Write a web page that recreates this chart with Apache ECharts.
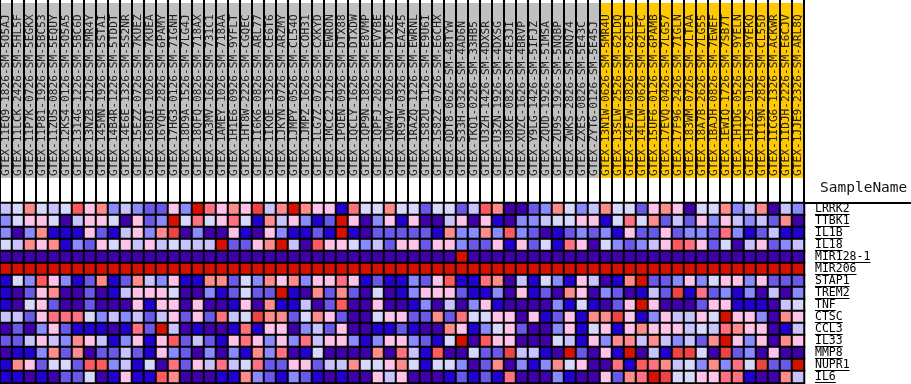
<!DOCTYPE html>
<html><head><meta charset="utf-8">
<script src="https://cdn.jsdelivr.net/npm/echarts@6/dist/echarts.min.js"></script>
<style>html,body{margin:0;padding:0;background:#fff}#c{width:911px;height:384px}</style>
</head><body><div id="c"></div>
<script>
// Sample names (columns)
const sampleNames = [
"GTEX-11EQ9-1826-SM-5O5AJ","GTEX-11LCK-2426-SM-5HL5F","GTEX-11P7K-0726-SM-5EGKX","GTEX-11P81-1926-SM-5BC53",
"GTEX-11ZUS-0826-SM-5EQUY","GTEX-12KS4-0126-SM-5O5A5","GTEX-1314G-1226-SM-5BC6D","GTEX-13NZB-2126-SM-5MR4Y",
"GTEX-145MN-1926-SM-5STAI","GTEX-14B4R-1226-SM-5TDDT","GTEX-14E6E-1326-SM-5S2NR","GTEX-15EZZ-0726-SM-7KUEZ",
"GTEX-16BQI-1026-SM-7KUEA","GTEX-16YQH-2826-SM-6PAMY","GTEX-17HG3-0126-SM-7IGNH","GTEX-18D9A-1526-SM-7LG4J",
"GTEX-18QFQ-0826-SM-718AX","GTEX-1A3MV-1626-SM-731C1","GTEX-1AMEY-1026-SM-718AA","GTEX-1H1E6-0926-SM-9YFLT",
"GTEX-1HT8W-2226-SM-CGQEC","GTEX-1I6K6-0826-SM-ARL77","GTEX-1IKOE-1326-SM-CE6T6","GTEX-1JKYN-0726-SM-ARZMY",
"GTEX-1JMPY-0526-SM-CL54O","GTEX-1JMPZ-1626-SM-COH31","GTEX-1LG7Z-0726-SM-CXKYD","GTEX-1MCC2-2126-SM-EWRON",
"GTEX-1POEN-0926-SM-DTX88","GTEX-1QCLY-1626-SM-DTXDW","GTEX-1QP9N-1826-SM-E8VMP","GTEX-1QPFJ-2026-SM-EVYBE",
"GTEX-1QW4Y-1026-SM-DTXE2","GTEX-1R9JW-0326-SM-EAZ45","GTEX-1RAZQ-1226-SM-EWRNL","GTEX-1S82U-1126-SM-E9U6I",
"GTEX-1S82Z-0726-SM-E6CHX","GTEX-QDT8-0626-SM-48TYW","GTEX-S33H-0326-SM-4AD6N","GTEX-TKQ1-0226-SM-33HB5",
"GTEX-U3ZH-1426-SM-4DXSR","GTEX-U3ZN-1926-SM-4DXSG","GTEX-U8XE-0826-SM-4E3JI","GTEX-XUZC-1626-SM-4BRVP",
"GTEX-Y9LG-1426-SM-5IFJZ","GTEX-ZQUD-1926-SM-51MSA","GTEX-ZU9S-1926-SM-5NQBP","GTEX-ZWKS-2826-SM-5NQ74",
"GTEX-ZXES-0826-SM-5E43C","GTEX-ZYT6-0126-SM-5E45J",
"GTEX-13N1W-0626-SM-5MR4U","GTEX-13SLW-2526-SM-62LDQ","GTEX-14E7W-0826-SM-62LEJ","GTEX-14LLW-0626-SM-62LFC",
"GTEX-15UF6-0126-SM-6PAMB","GTEX-17EVQ-0426-SM-7LG57","GTEX-17F96-2426-SM-7IGLN","GTEX-183WM-0726-SM-7LTAA",
"GTEX-18A7B-2626-SM-7LG55","GTEX-1BAJH-0826-SM-7EWEF","GTEX-1EWIQ-1726-SM-7SB7T","GTEX-1H1DG-0526-SM-9YELN",
"GTEX-1H1ZS-0126-SM-9YEKQ","GTEX-1I19N-2826-SM-CL55D","GTEX-1ICG6-1326-SM-ACKWR","GTEX-1IDJH-2226-SM-E6CJV",
"GTEX-1JJE9-2326-SM-ARL8Q"
];
// sample group: 0 = grey group, 1 = highlighted (yellow) group
const sampleGroup = [
0,0,0,0,0,0,0,0,0,0,0,0,0,0,0,0,0,0,0,0,0,0,0,0,0,0,0,0,0,0,0,0,0,0,0,0,0,0,0,0,0,0,0,0,0,0,0,0,0,0,
1,1,1,1,1,1,1,1,1,1,1,1,1,1,1,1,1
];
const genes = ["LRRK2","TTBK1","IL1B","IL18","MIR128-1","MIR206","STAP1","TREM2","TNF","CTSC","CCL3","IL33","MMP8","NUPR1","IL6"];

// Expression level bins (0 = lowest ... 11 = highest), one array per gene
const LRRK2 = [4,5,7,5,4,5,9,6,7,3,4,3,2,2,6,3,11, 8,6,7,6,10,4,7,11,7,6,6,1,8,5,5,7,5, 5,2,5,5,2,4,9,7,0,0,2,3,7,5,3,4,7, 5,5,2,6,7,6,0,5,5,7,3,4,7,0,4,3];
const TTBK1 = [3,5,6,6,5,0,4,6,6,5,0,6,2,3,11,5,8, 5,6,8,5,1,7,4,6,3,1,2,11,6,0,3,6,1, 6,0,0,4,6,0,6,1,0,3,3,4,5,5,6,6,1, 5,8,5,7,2,4,2,6,3,6,4,3,4,2,7,0];
const IL1B  = [3,0,3,7,1,1,1,6,2,1,4,6,3,7,10,0,3, 0,0,6,1,0,6,3,1,1,2,1,11,1,0,2,2,2, 2,2,1,7,3,3,7,3,9,3,2,0,1,2,3,2,3, 1,6,2,2,6,2,3,3,2,8,3,1,2,4,1,1];
const IL18  = [5,4,7,6,7,1,3,2,6,5,6,4,6,4,5,4,4, 4,11,2,2,6,7,11,4,0,9,6,6,5,3,4,2,6, 6,2,6,6,3,2,2,6,1,6,2,5,1,8,6,0,5, 3,2,3,4,6,9,8,6,2,5,0,4,6,2,3,4];
const MIR128_1 = [0,0,0,0,0,0,0,0,0,0,0,0,0,0,0,0,0, 0,0,0,0,0,0,0,0,0,0,0,0,0,0,0,0,0, 0,0,0,0,11,0,0,0,0,0,0,0,0,0,0,0,0, 0,0,0,0,0,0,0,0,0,0,0,0,0,0,0,0];
const MIR206 = [11,11,11,11,11,11,11,11,11,11,11,11,11,11,11,11,11, 11,11,11,11,11,11,11,11,11,11,11,11,11,11,11,11,11, 11,11,11,11,11,11,11,11,11,11,11,11,11,11,11,11,11, 11,11,11,11,11,11,11,11,11,11,11,11,11,11,11,11];
const STAP1 = [1,5,3,9,6,3,1,2,7,1,2,7,4,3,6,1,1, 7,7,2,5,3,7,6,7,3,6,6,8,6,1,2,1,1, 3,2,6,9,1,1,8,7,0,4,1,5,3,1,6,4,0, 1,7,11,2,2,3,6,3,5,6,6,3,6,2,2,2];
const TREM2 = [1,0,2,6,7,0,0,2,0,1,4,6,6,6,5,0,0, 3,1,2,5,2,2,11,1,0,7,2,7,2,0,5,0,1, 3,6,6,6,2,1,1,3,0,6,1,2,0,7,6,0,3, 2,0,1,4,2,10,1,8,2,3,1,3,0,4,0,3];
const TNF   = [1,0,5,6,2,0,0,2,0,0,0,6,1,6,6,0,6, 0,0,1,6,0,7,1,1,4,0,2,9,0,0,6,0,0, 1,3,0,4,0,3,6,1,0,0,0,0,3,1,5,1,0, 2,6,11,6,0,0,0,2,6,6,1,1,1,0,4,5];
const CTSC  = [4,4,2,6,8,8,8,5,3,4,3,4,2,4,6,2,6, 2,8,4,5,10,7,7,2,5,7,6,2,0,0,5,6,6, 2,2,7,2,8,5,5,6,6,0,6,1,2,6,1,7,7, 10,6,1,3,6,4,4,6,5,11,6,6,3,0,7,6];
const CCL3  = [0,2,0,3,6,2,1,1,1,0,1,8,2,11,4,0,1, 0,0,1,8,1,6,6,0,3,4,2,6,0,0,1,1,2, 1,0,0,7,6,1,3,5,6,2,0,0,3,6,1,5,6, 1,6,7,6,6,6,4,5,4,8,7,6,6,0,1,4];
const IL33  = [2,2,4,6,4,3,7,6,4,1,3,6,1,6,9,2,4, 2,1,6,8,6,3,6,3,8,4,6,6,3,1,3,6,6, 3,2,1,5,11,0,9,6,6,0,0,0,5,4,1,6,3, 7,7,4,7,4,3,4,2,7,11,6,3,6,0,7,6];
const MMP8  = [0,1,1,3,7,2,7,0,2,2,4,2,1,6,3,2,0, 3,0,3,1,7,3,8,0,1,5,0,0,0,0,7,0,8, 4,1,9,0,0,5,2,2,10,4,4,1,0,11,2,0,6, 1,11,0,4,1,10,10,5,0,10,2,3,0,6,0,0];
const NUPR1 = [1,7,6,2,5,5,2,9,9,3,4,1,5,0,8,2,6, 4,8,4,5,8,2,2,6,6,2,4,4,7,5,5,6,7, 5,1,5,5,3,0,2,7,0,3,1,3,7,5,6,0,0, 8,1,9,8,7,4,5,3,7,3,8,5,10,2,2,11];
const IL6   = [1,1,0,1,0,2,2,5,0,1,6,1,1,9,7,0,0, 0,1,1,7,3,2,1,3,2,1,0,1,0,0,6,4,6, 0,0,0,1,2,1,2,1,8,0,0,0,3,1,0,0,6, 2,7,8,11,10,5,5,6,6,8,8,1,0,0,7,4];

const geneValues = [LRRK2,TTBK1,IL1B,IL18,MIR128_1,MIR206,STAP1,TREM2,TNF,CTSC,CCL3,IL33,MMP8,NUPR1,IL6];
const levelColors = ["#3f00aa","#2200d2","#6a58e8","#8a8aff","#c8c2ff","#d8d8ff","#ffc2e8","#ff8c8c","#ff7080","#ff5a5e","#ee4444","#d81000"];

const heatData = [];
geneValues.forEach((arr, r) => arr.forEach((v, c) => heatData.push([c, r, v])));

const monoFont = "'DejaVu Sans Mono', monospace";
const labelFontSize = 11.5;
const cv = document.createElement('canvas').getContext('2d');
cv.font = labelFontSize + 'px ' + monoFont;

const chart = echarts.init(document.getElementById('c'), null, {renderer: 'canvas'});
chart.setOption({
  animation: false,
  title: {text: 'SampleName', left: 815, top: 176,
    textStyle: {fontFamily: monoFont, fontSize: 14.5, fontWeight: 'normal', color: '#111'}},
  grid: [
    {left: 0, top: 203, width: 804, height: 180},
    {left: 0, top: 0, width: 804, height: 203}
  ],
  xAxis: [
    {type: 'category', gridIndex: 0, data: sampleNames, axisLine: {show: false}, axisTick: {show: false}, axisLabel: {show: false}, splitLine: {show: false}},
    {type: 'category', gridIndex: 1, data: sampleNames, z: 10, axisLine: {show: false}, axisTick: {show: false}, axisLabel: {show: false},
     splitLine: {show: true, interval: 0, lineStyle: {color: '#000', width: 2}}}
  ],
  yAxis: [
    {type: 'category', gridIndex: 0, data: genes, inverse: true, position: 'right',
     axisLine: {show: false}, axisTick: {show: false},
     axisLabel: {show: true, interval: 0, margin: 11, color: '#000', fontFamily: monoFont, fontSize: labelFontSize, align: 'left'}},
    {type: 'value', gridIndex: 1, min: -25 / 175, max: 178 / 175, show: false}
  ],
  visualMap: {
    type: 'piecewise', show: false, dimension: 2, seriesIndex: 0,
    pieces: levelColors.map((c, i) => ({value: i, color: c}))
  },
  graphic: [{type: 'line', shape: {x1: 804, y1: 203, x2: 911, y2: 203}, style: {stroke: '#000', lineWidth: 2}}],
  series: [
    {type: 'heatmap', xAxisIndex: 0, yAxisIndex: 0, data: heatData,
     itemStyle: {borderColor: '#000', borderWidth: 2}, emphasis: {disabled: true}},
    {type: 'bar', xAxisIndex: 1, yAxisIndex: 1, barCategoryGap: '0%', silent: true,
     data: sampleNames.map((n, i) => ({value: 1, name: n, itemStyle: {color: sampleGroup[i] ? '#ffc800' : '#c0c0c0'}})),
     label: {show: true, position: 'insideBottom', rotate: 90, align: 'left', verticalAlign: 'middle', distance: 2,
       formatter: p => p.name, fontFamily: monoFont, fontSize: 11.2, color: '#222'}},
    {type: 'custom', xAxisIndex: 0, yAxisIndex: 0, clip: false, silent: true,
     data: genes.map((g, r) => [sampleNames.length - 1, r]),
     renderItem: (params, api) => {
       const p = api.coord([api.value(0), api.value(1)]);
       const w = api.size([1, 0])[0];
       const x0 = p[0] + w / 2 + 11;
       const y = Math.round(p[1] + 5) + 0.5;
       const tw = cv.measureText(genes[params.dataIndex]).width;
       return {type: 'line', shape: {x1: x0, y1: y, x2: x0 + tw, y2: y}, style: {stroke: '#000', lineWidth: 1}};
     }}
  ]
});
</script></body></html>
